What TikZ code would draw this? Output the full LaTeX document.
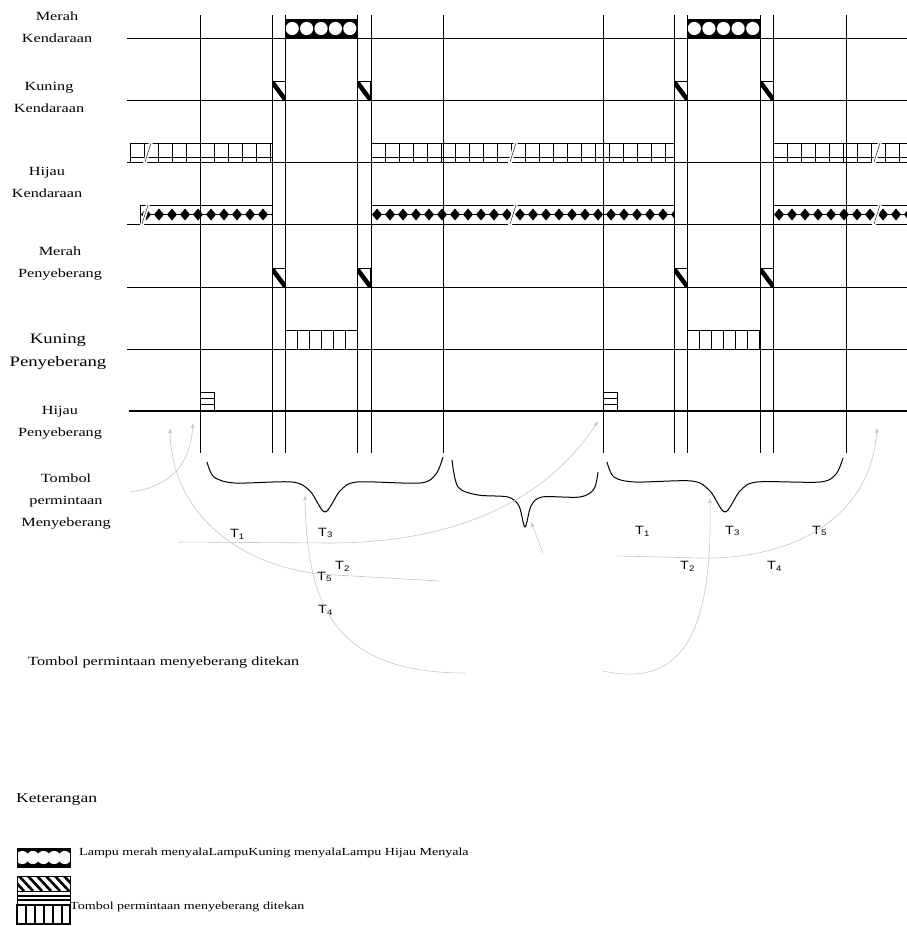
\documentclass[tikz,border=0pt]{standalone}
\usepackage{fontspec}
\setmainfont{Liberation Serif}
\newfontfamily\labfont{Liberation Serif}[FakeStretch=1.3]
\newfontfamily\tfont{Liberation Sans}[FakeStretch=1.2]
\usetikzlibrary{arrows.meta}
\tikzset{
  sig/.style={line width=0.8pt},
  lamp/.style={draw,line width=0.9pt},
  lbl/.style={font=\labfont\fontsize{12.5}{22}\selectfont,align=center,inner sep=0},
  tlbl/.style={font=\tfont\fontsize{12}{14}\selectfont,inner sep=0,anchor=west},
  req/.style={gray!45,line width=0.6pt,-{Latex[length=5pt,width=4pt]}},
  brace/.style={line width=1pt}
}
% boxes: x1, x2, base line
\newcommand{\redbox}[3]{%
  \fill (#1,#3) rectangle (#2,#3-19);
  \pgfmathsetmacro\cw{(#2-#1)/5}
  \foreach \k in {0,...,4} \fill[white] (#1+\cw*\k+\cw/2,#3-9.5) circle[radius=6.6pt];
  \draw[lamp] (#1,#3) rectangle (#2,#3-19);}
\newcommand{\slashbox}[2]{%
  \begin{scope}
    \clip (#1,#2) rectangle ++(13,-19);
    \draw[line width=4.5pt] (#1-2,#2-21) -- (#1+15,#2+2);
  \end{scope}
  \draw[lamp] (#1,#2) rectangle ++(13,-19);}
\newcommand{\ladderbox}[4]{%
  \begin{scope}
    \clip (#1,#3) rectangle (#2,#3-19);
    \foreach \xx in {0,#4,...,600} \draw[line width=0.9pt] (#1+\xx,#3) -- ++(0,-19);
  \end{scope}
  \draw[lamp] (#1,#3) rectangle (#2,#3-19);}
\newcommand{\greenbox}[3]{%
  \ladderbox{#1}{#2}{#3}{14}
  \draw (#1,#3-5) -- (#2,#3-5);}
\newcommand{\dotbox}[3]{%
  \draw[lamp] (#1,#3) rectangle (#2,#3-19);
  \begin{scope}
    \clip (#1,#3) rectangle (#2,#3-19);
    \draw (#1,#3-9.5) -- (#2,#3-9.5);
    \foreach \xx in {6,19,...,600}
      \fill (#1+\xx,#3-9.5) +(-5,0) -- +(0,6) -- +(5,0) -- +(0,-6) -- cycle;
  \end{scope}}
\newcommand{\barbox}[2]{%
  \draw[lamp] (#1,#2) rectangle ++(14,-19);
  \draw[line width=1.4pt] (#1,#2-6.3) -- ++(14,0) (#1,#2-12.6) -- ++(14,0);}
\newcommand{\brk}[2]{%
  \fill[white] (#1-5,#2+1) -- (#1+1,#2-20) -- (#1+5,#2-20) -- (#1-1,#2+1) -- cycle;
  \draw (#1-3,#2) -- (#1+3,#2-19);}
\begin{document}
\begin{tikzpicture}[x=1pt,y=-1pt]
\useasboundingbox (0,0) rectangle (907,926);
% signal lines
\foreach \ly in {38,100,162,224,287,349} \draw[sig] (127,\ly) -- (907,\ly);
\draw[line width=1.4pt] (129,411) -- (907,411);
% lamps
\redbox{285}{357}{38} \redbox{687}{760}{38}
\foreach \bx in {272,357,674,760} {\slashbox{\bx}{100} \slashbox{\bx}{287}}
\greenbox{130}{272}{162} \greenbox{371}{674}{162} \greenbox{773}{907}{162}
\dotbox{140}{272}{224} \dotbox{371}{674}{224} \dotbox{773}{907}{224}
\foreach \bx in {148,513,877} \brk{\bx}{162};
\foreach \bx in {145,513,877} \brk{\bx}{224};
\ladderbox{285}{357}{349}{12} \ladderbox{687}{760}{349}{12}
\barbox{200}{411} \barbox{603}{411}
% time marks
\foreach \vx in {200,272,285,357,371,443,603,674,687,760,773,846}
  \draw[sig] (\vx,15) -- (\vx,453);
% braces
\draw[brace,smooth] plot coordinates {(207,462)(214,477)(235,483)(292,482)(310,491)(325,512)(340,491)(357,482)(420,483)(436,474)(443,457)};
\draw[brace,smooth] plot coordinates {(452,460)(458,487)(478,495)(508,497)(519,506)(525,527)(531,506)(542,497)(580,497)(594,489)(598,472)};
\draw[brace,smooth] plot coordinates {(607,462)(614,477)(635,482)(692,481)(710,491)(725,512)(740,491)(757,482)(820,482)(836,474)(843,458)};
% labels
\node[lbl] (mk) at (57,27) {Merah\\Kendaraan};
\node[lbl] (kk) at (49,97) {Kuning\\Kendaraan};
\node[lbl] (hk) at (47,182) {Hijau\\Kendaraan};
\node[lbl] (mp) at (60,264) {Merah\\Penyeberang};
\node[lbl,font=\labfont\fontsize{14.4}{23}\selectfont] (kp) at (58,352) {Kuning\\Penyeberang};
\node[lbl] (hp) at (60,423) {Hijau\\Penyeberang};
\node[lbl] (tombol) at (66,502) {Tombol\\permintaan\\Menyeberang};
\node[lbl,anchor=west] (ditekan) at (28,663) {Tombol permintaan menyeberang ditekan};
\node[tlbl] (ta1) at (230,534) {T\textsubscript{1}};
\node[tlbl] (ta3) at (318,533) {T\textsubscript{3}};
\node[tlbl] (ta2) at (335,566) {T\textsubscript{2}};
\node[tlbl] (ta5) at (317,577) {T\textsubscript{5}};
\node[tlbl] (ta4) at (318,610) {T\textsubscript{4}};
\node[tlbl] (tb1) at (635,531) {T\textsubscript{1}};
\node[tlbl] (tb3) at (725,531) {T\textsubscript{3}};
\node[tlbl] (tb5) at (812,531) {T\textsubscript{5}};
\node[tlbl] (tb2) at (680,566) {T\textsubscript{2}};
\node[tlbl] (tb4) at (767,566) {T\textsubscript{4}};
% request arrows
\coordinate (a0) at (130,492); \coordinate (a1) at (193,423);
\coordinate (b0) at (440,581); \coordinate (b1) at (170,428);
\coordinate (c0) at (178,542); \coordinate (c1) at (598,421);
\coordinate (d0) at (465,673); \coordinate (d1) at (305,495);
\coordinate (e0) at (543,553); \coordinate (e1) at (531,522);
\coordinate (f0) at (603,671); \coordinate (f1) at (710,498);
\coordinate (g0) at (617,556); \coordinate (g1) at (877,428);
\draw[req] (a0) .. controls (170,487) and (190,465) .. (a1);
\draw[req] (b0) -- (335,575) .. controls (250,572) and (172,520) .. (b1);
\draw[req] (c0) -- (330,543) .. controls (440,543) and (540,510) .. (c1);
\draw[req] (d0) .. controls (330,673) and (307,600) .. (d1);
\draw[req] (e0) -- (e1);
\draw[req] (f0) .. controls (690,690) and (712,620) .. (f1);
\draw[req] (g0) -- (700,558) .. controls (790,560) and (870,520) .. (g1);
% legend
\node[anchor=west,inner sep=0,font=\labfont\fontsize{13.5}{16}\selectfont] (ket) at (16,800) {Keterangan};
\redbox{17}{70}{867}
\node[anchor=west,inner sep=0,font=\labfont\fontsize{10.8}{13}\selectfont] (leg1) at (79,853) {Lampu merah menyalaLampuKuning menyalaLampu Hijau Menyala};
\begin{scope}
  \clip (17,876) rectangle (70,891);
  \foreach \hx in {10,19,...,90} \draw[line width=2.6pt] (\hx,876) -- ++(14,15);
\end{scope}
\draw[lamp] (17,876) rectangle (70,891);
\draw[lamp] (17,891) rectangle (70,905);
\draw[line width=1.2pt] (17,896) -- (70,896) (17,900) -- (70,900);
\begin{scope}
  \clip (17,905) rectangle (70,925);
  \foreach \hx in {17,26,...,80} \draw[line width=2pt] (\hx,905) -- ++(0,20);
\end{scope}
\draw[line width=2pt] (17,905) rectangle (70,924);
\node[anchor=west,inner sep=0,font=\labfont\fontsize{10.8}{13}\selectfont] (leg2) at (70,907) {Tombol permintaan menyeberang ditekan};
\end{tikzpicture}
\end{document}
